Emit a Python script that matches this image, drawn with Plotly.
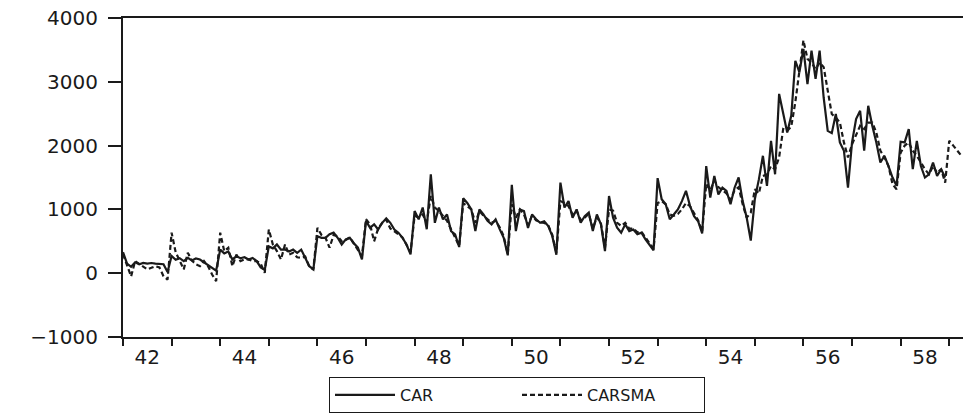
import plotly.graph_objects as go

# Monthly observations, starting January 1942
start_year = 1942

car = [
    330, 150, 100, 170, 140, 160, 150, 160, 150, 150, 140, 20,        # 1942
    270, 210, 235, 190, 240, 200, 230, 215, 170, 130, 80, 40,         # 1943
    370, 310, 340, 215, 265, 235, 250, 215, 240, 190, 90, 50,         # 1944
    420, 390, 450, 370, 370, 340, 370, 320, 370, 240, 110, 60,        # 1945
    580, 555, 555, 610, 635, 555, 450, 530, 555, 470, 400, 215,       # 1946
    820, 710, 765, 685, 790, 860, 790, 685, 635, 555, 450, 295,       # 1947
    975, 845, 1030, 690, 1550, 790, 1030, 845, 920, 660, 610, 410,    # 1948
    1175, 1100, 1000, 660, 1000, 920, 820, 765, 845, 690, 555, 280,   # 1949
    1385, 660, 1000, 975, 710, 920, 845, 790, 815, 740, 580, 290,     # 1950
    1420, 1030, 1130, 870, 1000, 790, 895, 950, 660, 920, 765, 345,   # 1951
    1210, 870, 715, 635, 765, 660, 685, 610, 635, 530, 450, 360,      # 1952
    1490, 1160, 1080, 845, 920, 1000, 1130, 1290, 1055, 895, 815, 625,  # 1953
    1680, 1185, 1525, 1235, 1340, 1290, 1080, 1340, 1500, 1130, 870, 510,  # 1954
    1160, 1470, 1840, 1370, 2075, 1550, 2810, 2500, 2205, 2470, 3330, 3150,  # 1955
    3515, 2965, 3490, 3045, 3490, 2750, 2230, 2195, 2495, 2050, 1920, 1340,  # 1956
    2050, 2415, 2545, 1920, 2625, 2310, 2050, 1735, 1840, 1680, 1500, 1370,  # 1957
    2060, 2050, 2260, 1630, 2075, 1680, 1500, 1550, 1735, 1525, 1630, 1500,  # 1958
]

carsma = [
    300, 110, -50, 190, 150, 110, 60, 84, 110, 90, -47, -100,         # 1942
    635, 330, 200, 60, 320, 200, 140, 110, 190, 110, -20, -125,       # 1943
    635, 346, 400, 110, 290, 190, 215, 215, 190, 190, 150, 5,         # 1944
    685, 450, 346, 215, 450, 293, 320, 250, 240, 260, 100, 58,        # 1945
    710, 600, 555, 400, 600, 580, 500, 520, 560, 470, 380, 270,       # 1946
    845, 765, 500, 700, 790, 840, 700, 660, 610, 560, 450, 330,       # 1947
    900, 870, 920, 800, 1210, 1030, 975, 900, 820, 690, 560, 425,     # 1948
    1100, 1050, 1000, 790, 975, 900, 845, 790, 820, 720, 580, 300,    # 1949
    1080, 870, 1000, 920, 760, 900, 830, 800, 790, 750, 600, 320,     # 1950
    1130, 1100, 1050, 920, 980, 830, 870, 930, 700, 880, 780, 400,    # 1951
    1000, 980, 790, 740, 790, 700, 700, 640, 650, 560, 470, 380,      # 1952
    1100, 1130, 1080, 920, 900, 930, 1000, 1100, 1050, 950, 830, 650, # 1953
    1400, 1300, 1450, 1350, 1300, 1250, 1150, 1300, 1350, 1080, 870, 950,  # 1954
    1315, 1250, 1525, 1550, 1680, 1630, 1815, 2260, 2230, 2300, 2680, 3150,  # 1955
    3650, 3360, 3300, 3200, 3300, 3230, 2835, 2495, 2440, 2360, 2050, 1815,  # 1956
    2020, 2180, 2310, 2260, 2360, 2360, 2205, 1920, 1815, 1680, 1395, 1315,  # 1957
    1890, 2000, 2050, 1920, 1840, 1735, 1630, 1550, 1680, 1575, 1630, 1420,  # 1958
    2075, 2000, 1920, 1840,                                            # 1959
]

x_tick_labels = ["42", "44", "46", "48", "50", "52", "54", "56", "58"]
y_ticks = [-1000, 0, 1000, 2000, 3000, 4000]

x_car = [start_year + i / 12 for i in range(len(car))]
x_carsma = [start_year + i / 12 for i in range(len(carsma))]
label_pos = [start_year + 2 * k + 0.5 for k in range(len(x_tick_labels))]
year_ticks = [start_year + k for k in range(19)]

FONT = "DejaVu Sans"
INK = "#1a1a1a"

fig = go.Figure()
fig.add_trace(go.Scatter(
    x=x_carsma, y=carsma, mode="lines", name="CARSMA", legendrank=2,
    line=dict(color=INK, width=2.2, dash="5px,3px"),
))
fig.add_trace(go.Scatter(
    x=x_car, y=car, mode="lines", name="CAR", legendrank=1,
    line=dict(color=INK, width=2.2),
))

fig.update_layout(
    width=963, height=414,
    margin=dict(l=123, r=0, t=18, b=77, autoexpand=False),
    paper_bgcolor="white", plot_bgcolor="white",
    font=dict(family=FONT, size=20, color=INK),
    showlegend=True,
    legend=dict(
        orientation="h",
        xref="container", x=329 / 963, xanchor="left",
        yref="container", y=(414 - 395) / 414, yanchor="middle",
        bordercolor=INK, borderwidth=1, itemwidth=60,
        entrywidth=112, entrywidthmode="pixels",
        font=dict(family=FONT, size=16, color=INK),
        tracegroupgap=0,
    ),
)
fig.update_xaxes(
    range=[start_year, start_year + 207.4 / 12],
    tickmode="array", tickvals=label_pos, ticktext=x_tick_labels,
    ticks="outside", ticklen=6, tickcolor="rgba(0,0,0,0)",
    ticklabelstandoff=-5,
    minor=dict(tickmode="array", tickvals=year_ticks, ticks="outside",
               ticklen=7, tickwidth=1.5, tickcolor=INK),
    showline=True, linecolor=INK, linewidth=1.5, mirror=True,
    showgrid=False, zeroline=False,
)
fig.update_yaxes(
    range=[-1000, 4000],
    tickmode="array", tickvals=y_ticks,
    ticks="outside", ticklen=13, tickwidth=1.5, tickcolor=INK,
    ticklabelstandoff=6,
    showline=True, linecolor=INK, linewidth=2, mirror=False,
    showgrid=False, zeroline=False,
)

fig.write_html("out.html")
